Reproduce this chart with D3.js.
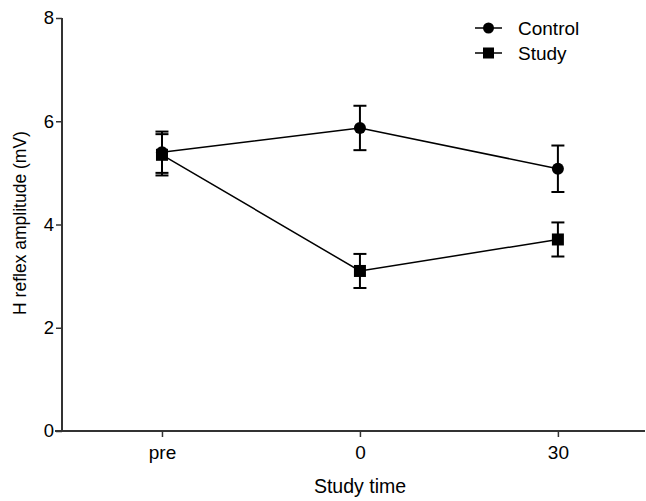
<html>
<head>
  <meta charset="UTF-8">
  <script src="https://d3js.org/d3.v7.min.js"></script>
  <style>
    body { margin: 0; background: #fff; }
    text { font-family: "Liberation Sans", Arial, sans-serif; fill: #000; }
  </style>
</head>
<body>
  <svg id="chart" width="646" height="501"></svg>
  <script>
    // Data
    const categories = [ "pre", "0", "30" ];
    const controlMean = [ 5.40, 5.87, 5.08 ];
    const controlErr = [ 0.40, 0.43, 0.45 ];
    const studyMean = [ 5.35, 3.10, 3.71 ];
    const studyErr = [ 0.40, 0.33, 0.33 ];
    const yTicks = [ 0, 2, 4, 6, 8 ];

    const svg = d3.select( "#chart" );

    // Scales
    const x = d3.scaleLinear()
      .domain( [ -0.505, 2.44 ] )
      .range( [ 62, 645 ] );
    const y = d3.scaleLinear()
      .domain( [ 0, 8 ] )
      .range( [ 431, 18 ] );

    // Y axis
    const yAxis = svg.append( "g" )
      .attr( "transform", "translate(62,0)" )
      .call( d3.axisLeft( y ).tickValues( yTicks ).tickSize( 6 ).tickPadding( 2 ) );
    yAxis.select( ".domain" ).attr( "d", "M0," + y( 0 ) + "V" + y( 8 ) ).attr( "stroke", "#333" ).attr( "stroke-width", 2 );
    yAxis.selectAll( ".tick line" ).attr( "stroke", "#333" ).attr( "stroke-width", 1.5 );
    yAxis.selectAll( ".tick text" ).style( "font-size", "18.5px" ).style( "font-family", "Liberation Sans, Arial, sans-serif" ).attr( "fill", "#000" );

    // X axis
    const xAxis = svg.append( "g" )
      .attr( "transform", "translate(0," + y( 0 ) + ")" )
      .call( d3.axisBottom( x ).tickValues( [ 0, 1, 2 ] ).tickFormat( ( d ) => categories[ d ] ).tickSize( 6 ).tickPadding( 9 ) );
    xAxis.select( ".domain" ).attr( "d", "M55,0H645" ).attr( "stroke", "#333" ).attr( "stroke-width", 2 );
    xAxis.selectAll( ".tick line" ).attr( "stroke", "#333" ).attr( "stroke-width", 1.5 );
    xAxis.selectAll( ".tick text" ).style( "font-size", "19px" ).style( "font-family", "Liberation Sans, Arial, sans-serif" ).attr( "fill", "#000" );

    // Axis titles
    svg.append( "text" )
      .attr( "x", 360 ).attr( "y", 493 )
      .attr( "text-anchor", "middle" )
      .style( "font-size", "19.5px" )
      .text( "Study time" );
    svg.append( "text" )
      .attr( "transform", "translate(26,223) rotate(-90)" )
      .attr( "text-anchor", "middle" )
      .style( "font-size", "17.5px" )
      .text( "H reflex amplitude (mV)" );

    const series = [
      { name: "Control", mean: controlMean, err: controlErr, shape: "circle" },
      { name: "Study", mean: studyMean, err: studyErr, shape: "square" }
    ];

    const line = d3.line()
      .x( ( d, i ) => x( i ) )
      .y( ( d ) => y( d ) );

    series.forEach( function ( s ) {
      const g = svg.append( "g" );
      g.append( "path" )
        .attr( "d", line( s.mean ) )
        .attr( "fill", "none" )
        .attr( "stroke", "#000" )
        .attr( "stroke-width", 1.5 );

      // Error bars
      s.mean.forEach( function ( m, i ) {
        const cx = x( i );
        const top = y( m + s.err[ i ] );
        const bot = y( m - s.err[ i ] );
        g.append( "line" ).attr( "x1", cx ).attr( "x2", cx ).attr( "y1", top ).attr( "y2", bot )
          .attr( "stroke", "#000" ).attr( "stroke-width", 2 );
        [ top, bot ].forEach( function ( yy ) {
          g.append( "line" ).attr( "x1", cx - 6.5 ).attr( "x2", cx + 6.5 ).attr( "y1", yy ).attr( "y2", yy )
            .attr( "stroke", "#000" ).attr( "stroke-width", 2 );
        } );
      } );

      // Markers
      s.mean.forEach( function ( m, i ) {
        if ( s.shape === "circle" ) {
          g.append( "circle" ).attr( "cx", x( i ) ).attr( "cy", y( m ) ).attr( "r", 6 ).attr( "fill", "#000" );
        } else {
          g.append( "rect" ).attr( "x", x( i ) - 6 ).attr( "y", y( m ) - 6 ).attr( "width", 12 ).attr( "height", 12 ).attr( "fill", "#000" );
        }
      } );
    } );

    // Legend
    const legend = svg.append( "g" ).attr( "transform", "translate(475,28)" );
    series.forEach( function ( s, i ) {
      const ly = i * 25;
      legend.append( "line" ).attr( "x1", 0 ).attr( "x2", 27 ).attr( "y1", ly ).attr( "y2", ly )
        .attr( "stroke", "#000" ).attr( "stroke-width", 1.5 );
      if ( s.shape === "circle" ) {
        legend.append( "circle" ).attr( "cx", 13.5 ).attr( "cy", ly ).attr( "r", 5.5 ).attr( "fill", "#000" );
      } else {
        legend.append( "rect" ).attr( "x", 8 ).attr( "y", ly - 5.5 ).attr( "width", 11 ).attr( "height", 11 ).attr( "fill", "#000" );
      }
      legend.append( "text" )
        .attr( "x", 43 ).attr( "y", ly + 7 )
        .style( "font-size", "19px" )
        .text( s.name );
    } );
  </script>
</body>
</html>
